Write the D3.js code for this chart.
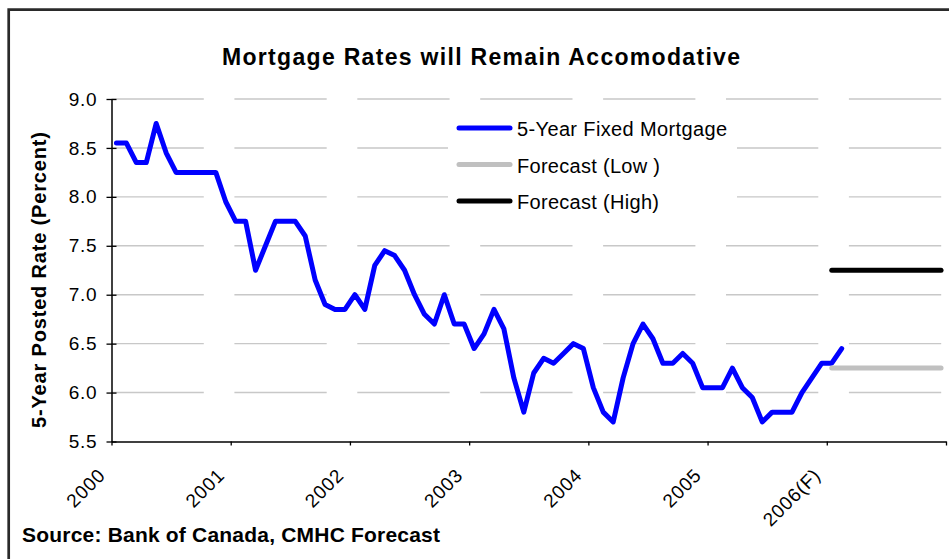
<!DOCTYPE html>
<html>
<head>
<meta charset="utf-8">
<script src="https://cdn.jsdelivr.net/npm/d3@7"></script>
<style>
  html, body { margin: 0; padding: 0; background: #fff; }
  svg { display: block; font-family: "Liberation Sans", Arial, sans-serif; }
</style>
</head>
<body>
<svg id="chart" width="949" height="559"></svg>
<script>
// Year categories along the x axis (12 monthly slots each)
const years = ["2000", "2001", "2002", "2003", "2004", "2005", "2006(F)"];
const monthsPerYear = 12;

// 5-year fixed posted mortgage rate, monthly from Jan 2000 to Feb 2006
const fixedRate = [
  8.55, 8.55, 8.35, 8.35, 8.75, 8.45, 8.25, 8.25, 8.25, 8.25, 8.25, 7.95,
  7.75, 7.75, 7.25, 7.50, 7.75, 7.75, 7.75, 7.60, 7.15, 6.90, 6.85, 6.85,
  7.00, 6.85, 7.30, 7.45, 7.40, 7.25, 7.00, 6.80, 6.70, 7.00, 6.70, 6.70,
  6.45, 6.60, 6.85, 6.65, 6.15, 5.80, 6.20, 6.35, 6.30, 6.40, 6.50, 6.45,
  6.05, 5.80, 5.70, 6.15, 6.50, 6.70, 6.55, 6.30, 6.30, 6.40, 6.30, 6.05,
  6.05, 6.05, 6.25, 6.05, 5.95, 5.70, 5.80, 5.80, 5.80, 6.00, 6.15, 6.30,
  6.30, 6.45
];

// 2006 forecast band (one value per month)
const forecastLow  = [6.25, 6.25, 6.25, 6.25, 6.25, 6.25, 6.25, 6.25, 6.25, 6.25, 6.25, 6.25];
const forecastHigh = [7.25, 7.25, 7.25, 7.25, 7.25, 7.25, 7.25, 7.25, 7.25, 7.25, 7.25, 7.25];

// Y-axis tick values
const yTicks = [5.5, 6.0, 6.5, 7.0, 7.5, 8.0, 8.5, 9.0];

const seriesNames = ["5-Year Fixed Mortgage", "Forecast (Low )", "Forecast (High)"];
const chartTitle = "Mortgage Rates will Remain Accomodative";
const yTitle = "5-Year Posted Rate (Percent)";
const sourceNote = "Source: Bank of Canada, CMHC Forecast";

// ---------------------------------------------------------------
const svg = d3.select("#chart");
const plot = { left: 111.5, right: 946, top: 99, bottom: 441.5 };
const nSlots = years.length * monthsPerYear;
const forecastStart = (years.length - 1) * monthsPerYear;

const x = d3.scaleLinear().domain([0, nSlots]).range([plot.left, plot.right]);
const y = d3.scaleLinear().domain([5.5, 9.0]).range([plot.bottom, plot.top]);

// Outer frame (only the top and left edges fall inside the canvas)
svg.append("path")
  .attr("d", `M8.7,${559} V9.7 H949`)
  .attr("fill", "none")
  .attr("stroke", "#2a2a2a")
  .attr("stroke-width", 2.7);

// Title
svg.append("text")
  .attr("x", 222).attr("y", 65)
  .attr("font-size", 23).attr("font-weight", "bold")
  .attr("textLength", 518).attr("lengthAdjust", "spacing")
  .text(chartTitle);

// Horizontal gridlines (broken-dash style)
svg.append("g").selectAll("line")
  .data(yTicks.filter(v => v > 5.5))
  .join("line")
  .attr("x1", x(0)).attr("x2", plot.right)
  .attr("y1", d => y(d)).attr("y2", d => y(d))
  .attr("stroke", "#c8c8c8")
  .attr("stroke-width", 1.4)
  .attr("stroke-dasharray", "92.3 30.6");

// Y axis
const yAxis = svg.append("g")
  .attr("transform", `translate(${plot.left},0)`)
  .call(d3.axisLeft(y).tickValues(yTicks).tickFormat(d3.format(".1f"))
    .tickSize(5).tickSizeOuter(0).tickPadding(9));
yAxis.select(".domain").attr("stroke", "#000").attr("stroke-width", 1.5);
yAxis.selectAll(".tick line").attr("x1", 5).attr("stroke", "#000").attr("stroke-width", 1.3);
yAxis.selectAll(".tick text")
  .attr("font-size", 19).attr("fill", "#000")
  .attr("font-family", "Liberation Sans, Arial, sans-serif")
  .attr("letter-spacing", 0.8);

// X axis with year labels at the start of each year
const xAxis = svg.append("g")
  .attr("transform", `translate(0,${plot.bottom})`)
  .call(d3.axisBottom(x)
    .tickValues(d3.range(0, nSlots + 1, monthsPerYear))
    .tickFormat((d, i) => years[i] || "")
    .tickSize(4).tickSizeOuter(0));
xAxis.select(".domain").attr("stroke", "#000").attr("stroke-width", 1.5);
xAxis.selectAll(".tick line").attr("stroke", "#000").attr("stroke-width", 1.3);
xAxis.selectAll(".tick text")
  .attr("font-size", 19).attr("fill", "#000")
  .attr("font-family", "Liberation Sans, Arial, sans-serif")
  .attr("letter-spacing", 0.8)
  .attr("text-anchor", "end")
  .attr("y", 0).attr("dy", 0)
  .attr("transform", "translate(-5.5,35) rotate(-45)");

// Y axis title
svg.append("text")
  .attr("transform", `translate(45.5,280) rotate(-90)`)
  .attr("text-anchor", "middle")
  .attr("font-size", 20).attr("font-weight", "bold")
  .attr("textLength", 296).attr("lengthAdjust", "spacing")
  .text(yTitle);

// Series lines
const line = d3.line().x(d => x(d.i + 0.5)).y(d => y(d.v));

svg.append("path")
  .datum(fixedRate.map((v, i) => ({ i, v })))
  .attr("d", line)
  .attr("fill", "none")
  .attr("stroke", "#0000ff")
  .attr("stroke-width", 5)
  .attr("stroke-linejoin", "round")
  .attr("stroke-linecap", "round");

svg.append("path")
  .datum(forecastLow.map((v, i) => ({ i: forecastStart + i, v })))
  .attr("d", line)
  .attr("fill", "none")
  .attr("stroke", "#c0c0c0")
  .attr("stroke-width", 5)
  .attr("stroke-linecap", "round");

svg.append("path")
  .datum(forecastHigh.map((v, i) => ({ i: forecastStart + i, v })))
  .attr("d", line)
  .attr("fill", "none")
  .attr("stroke", "#000000")
  .attr("stroke-width", 5)
  .attr("stroke-linecap", "round");

// Legend
const legendColors = ["#0000ff", "#c0c0c0", "#000000"];
const legendWidths = [210, 143, 142];
const legend = svg.append("g");
legend.append("rect")
  .attr("x", 448).attr("y", 106).attr("width", 289).attr("height", 110)
  .attr("fill", "#fff");
const rows = legend.selectAll("g.row")
  .data(seriesNames)
  .join("g")
  .attr("class", "row")
  .attr("transform", (d, i) => `translate(0,${128 + i * 36.5})`);
rows.append("line")
  .attr("x1", 459).attr("x2", 510).attr("y1", 0).attr("y2", 0)
  .attr("stroke", (d, i) => legendColors[i])
  .attr("stroke-width", 5)
  .attr("stroke-linecap", "round");
rows.append("text")
  .attr("x", 517).attr("y", 8)
  .attr("font-size", 20)
  .attr("textLength", (d, i) => legendWidths[i])
  .attr("lengthAdjust", "spacing")
  .text(d => d);

// Source note
svg.append("text")
  .attr("x", 22).attr("y", 541.5)
  .attr("font-size", 21).attr("font-weight", "bold")
  .attr("textLength", 418).attr("lengthAdjust", "spacing")
  .text(sourceNote);
</script>
</body>
</html>
